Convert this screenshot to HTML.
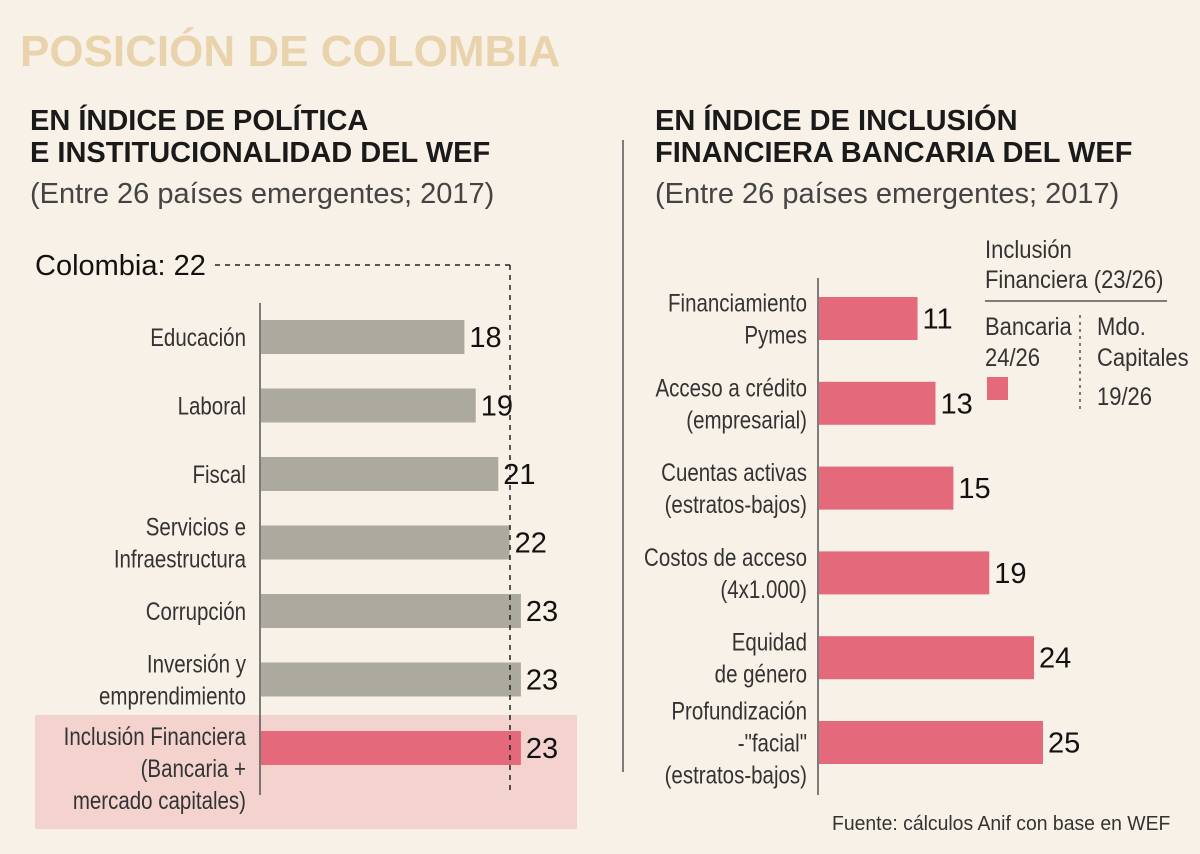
<!DOCTYPE html>
<html><head><meta charset="utf-8"><style>
body{margin:0;width:1200px;height:849px;background:#f8f1e7;overflow:hidden;font-family:"Liberation Sans",sans-serif;color:#222}
svg text{font-family:"Liberation Sans",sans-serif}
</style></head><body>
<svg width="1200" height="849">
<text x="20" y="66" font-size="44" font-weight="bold" fill="#e8d3ad">POSICIÓN DE COLOMBIA</text>
<text x="30" y="130" font-size="29" font-weight="bold" fill="#1a1a1a">EN ÍNDICE DE POLÍTICA</text>
<text x="30" y="162" font-size="29" font-weight="bold" fill="#1a1a1a">E INSTITUCIONALIDAD DEL WEF</text>
<text x="30" y="203" font-size="29" fill="#444">(Entre 26 países emergentes; 2017)</text>
<text x="655" y="130" font-size="29" font-weight="bold" fill="#1a1a1a">EN ÍNDICE DE INCLUSIÓN</text>
<text x="655" y="162" font-size="29" font-weight="bold" fill="#1a1a1a">FINANCIERA BANCARIA DEL WEF</text>
<text x="655" y="203" font-size="29" fill="#444">(Entre 26 países emergentes; 2017)</text>
<line x1="623" y1="140" x2="623" y2="772" stroke="#555" stroke-width="1.5"/>
<rect x="35" y="715" width="542" height="114" fill="#f4d3cf"/>
<g id="left"></g><g id="right"></g>
<text x="35" y="275" font-size="29" fill="#111">Colombia: 22</text>
<line x1="215" y1="265" x2="510" y2="265" stroke="#222" stroke-width="1.5" stroke-dasharray="5,5"/>
<line x1="510" y1="265" x2="510" y2="795" stroke="#222" stroke-width="1.5" stroke-dasharray="5,5"/>
<line x1="260" y1="303" x2="260" y2="795" stroke="#555" stroke-width="1.5"/>
<line x1="818" y1="278" x2="818" y2="795" stroke="#555" stroke-width="1.5"/>
<g font-size="25" fill="#333">
<text transform="translate(985,258) scale(0.88,1)">Inclusión</text><text transform="translate(985,288) scale(0.88,1)">Financiera (23/26)</text>
<line x1="985" y1="301" x2="1167" y2="301" stroke="#555" stroke-width="1.5"/>
<text transform="translate(985,335) scale(0.88,1)">Bancaria</text><text transform="translate(985,366) scale(0.88,1)">24/26</text>
<rect x="987" y="377" width="21" height="23" fill="#e46a7b"/>
<line x1="1080" y1="315" x2="1080" y2="412" stroke="#555" stroke-width="1.5" stroke-dasharray="3,4"/>
<text transform="translate(1097,335) scale(0.88,1)">Mdo.</text><text transform="translate(1097,366) scale(0.88,1)">Capitales</text><text transform="translate(1097,405) scale(0.88,1)">19/26</text>
</g>
<text transform="translate(832,830) scale(0.97,1)" font-size="20" fill="#333">Fuente: cálculos Anif con base en WEF</text>
</svg>
<script>
const leftCats=[["Educación"],["Laboral"],["Fiscal"],["Servicios e","Infraestructura"],["Corrupción"],["Inversión y","emprendimiento"],["Inclusión Financiera","(Bancaria +","mercado capitales)"]];
const leftVals=[18,19,21,22,23,23,23];
const rightCats=[["Financiamiento","Pymes"],["Acceso a crédito","(empresarial)"],["Cuentas activas","(estratos-bajos)"],["Costos de acceso","(4x1.000)"],["Equidad","de género"],["Profundización","-\"facial\"","(estratos-bajos)"]];
const rightVals=[11,13,15,19,24,25];
const NS="http://www.w3.org/2000/svg";
function mk(t,a,p){const e=document.createElementNS(NS,t);for(const k in a)e.setAttribute(k,a[k]);p.appendChild(e);return e;}
function draw(g,cats,vals,x0,scale,y0,step,h,colorFn,prefix,labelGap,firstAlign){
 cats.forEach((c,i)=>{
  const y=y0+i*step, w=vals[i]*scale;
  const r=mk('rect',{x:x0+1,y:y,width:w,height:h,fill:colorFn(i)},g);
  
  
  const v=mk('text',{x:x0+1+w+5,y:y+h/2+10,'font-size':29,fill:'#111'},g);
  v.textContent=vals[i];
  
  
  const lh=32, cy=y+h/2;
  let start=cy-(c.length-1)*lh/2;
  if(firstAlign && c.length===3) start=cy-12;
  c.forEach((ln,j)=>{
   const t=mk('text',{x:0,y:0,transform:'translate('+(x0-labelGap)+','+(start+j*lh+9)+') scale(0.82,1)','font-size':25,fill:'#333','text-anchor':'end'},g);
   t.textContent=ln;
   
   
  });
 });
}
draw(document.getElementById('left'),leftCats,leftVals,260,11.3,320,68.5,34,i=>i==6?'#e46a7b':'#aca99f','left',14,true);
draw(document.getElementById('right'),rightCats,rightVals,818,8.96,297,84.8,43,()=>'#e46a7b','right',11,false);
</script>
</body></html>
